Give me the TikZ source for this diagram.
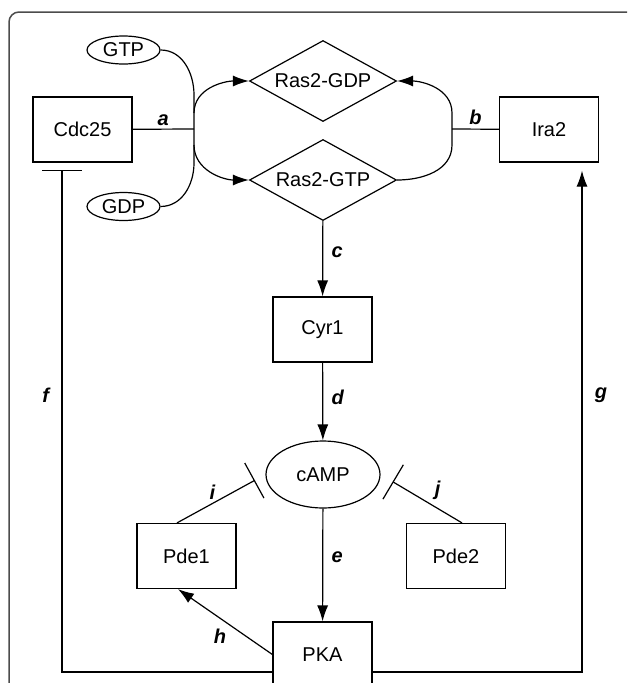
\documentclass[tikz,border=0pt]{standalone}
\usepackage{fontspec}
\setmainfont{Liberation Sans}
\usetikzlibrary{shapes.geometric,arrows.meta}

\begin{document}
\begin{tikzpicture}[x=1pt,y=-1pt,
    line width=1.2pt,
    font=\fontsize{20}{24}\selectfont,
    box/.style={draw, rectangle, minimum width=99pt, minimum height=65pt, inner sep=0pt},
    mol/.style={draw, ellipse, minimum width=73pt, minimum height=28pt, inner sep=0pt},
    ras/.style={draw, diamond, aspect=1.8, minimum width=147pt, minimum height=81pt, inner sep=0pt},
    act/.style={-{Latex[length=16pt,width=11pt]}},
    inh/.style={-{Bar[width=40pt]}},
    lbl/.style={font=\fontsize{20}{24}\selectfont\bfseries\itshape}]

    % Fix the page to the figure size
    \clip (0,0) rectangle (627,683);

    % Panel frame
    \draw[black!70, line width=1.5pt, rounded corners=10pt] (9,700) -- (9,12) -- (650,12);

    % Species and proteins
    \node[mol] (gtp) at (123.5,50) {GTP};
    \node[mol] (gdp) at (123.5,206.5) {GDP};
    \node[box] (cdc) at (82.5,129.5) {Cdc25};
    \node[ras] (rasgdp) at (323,81) {Ras2-GDP};
    \node[ras] (rasgtp) at (323,180) {Ras2-GTP};
    \node[box] (ira) at (549,129.5) {Ira2};
    \node[box] (cyr) at (322.5,329.5) {Cyr1};
    \node[draw, ellipse, minimum width=114pt, minimum height=67pt, inner sep=0pt] (camp) at (323,474.5) {cAMP};
    \node[box] (pde1) at (186.5,556) {Pde1};
    \node[box] (pde2) at (456,556) {Pde2};
    \node[box] (pka) at (322.5,654.5) {PKA};

    % Junctions and corners of the feedback loops
    \coordinate (ja) at (194,129);
    \coordinate (jb) at (452,129);
    \coordinate (fc) at (62,672);
    \coordinate (gc) at (582,672);

    % Nucleotide exchange (Cdc25) and GTP hydrolysis (Ira2)
    \draw (gtp.east) to[out=0,in=90] ([yshift=34pt]ja) -- ([yshift=-34pt]ja) to[out=-90,in=0] (gdp.east);
    \draw[act] ([yshift=16pt]ja) to[out=90,in=180] (rasgdp.west);
    \draw[act] ([yshift=-16pt]ja) to[out=-90,in=180] (rasgtp.west);
    \draw (cdc) -- (ja) node[lbl, midway, above] (la) {a};
    \draw[act] (rasgtp.east) to[out=0,in=-90] ([yshift=-16pt]jb) -- ([yshift=16pt]jb) to[out=90,in=0] (rasgdp.east);
    \draw (ira) -- (jb) node[lbl, midway, above] (lb) {b};

    % Main cascade
    \draw[act] (rasgtp) -- (cyr) node[lbl, pos=0.42, right=5pt] (lc) {c};
    \draw[act] (cyr) -- (camp) node[lbl, pos=0.45, right=5pt] (ld) {d};
    \draw[act] (camp) -- (pka) node[lbl, pos=0.43, right=5pt] (le) {e};

    % Phosphodiesterases
    \draw[inh, shorten >=12pt] ([xshift=-9.5pt]pde1.north) -- (camp.west) node[lbl, pos=0.4, above] (li) {i};
    \draw[inh, shorten >=14pt] ([xshift=6pt]pde2.north) -- (camp.east) node[lbl, pos=0.3, above=5pt] (lj) {j};
    \draw[act] (pka.west) -- ([xshift=-8.5pt]pde1.south) node[lbl, pos=0.45, below left] (lh) {h};

    % Feedback from PKA
    \draw[inh, shorten >=7pt] (pka.west |- fc) -- (fc) -- node[lbl, pos=0.543, left=9pt] (lf) {f} (fc |- cdc.south);
    \draw[act, shorten >=8pt] (pka.east |- gc) -- (gc) -- node[lbl, pos=0.543, right=9pt] (lg) {g} (gc |- ira.south);

\end{tikzpicture}
\end{document}
